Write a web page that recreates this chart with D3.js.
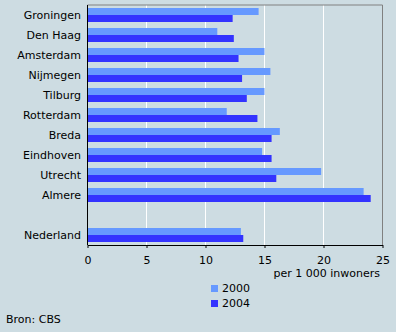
<!DOCTYPE html>
<html>
<head>
<meta charset="utf-8">
<script src="https://cdn.jsdelivr.net/npm/d3@7"></script>
<style>
  body { margin: 0; background: #cddce2; }
  svg { display: block; font-family: "DejaVu Sans", Verdana, sans-serif; }
</style>
</head>
<body>
<svg id="chart" width="396" height="332"></svg>
<script>
// gemeenten, "" is the empty row before Nederland
const categories = ["Groningen", "Den Haag", "Amsterdam", "Nijmegen", "Tilburg", "Rotterdam",
  "Breda", "Eindhoven", "Utrecht", "Almere", "", "Nederland"];
const values2000 = [14.5, 11.0, 15.0, 15.5, 15.0, 11.8, 16.3, 14.8, 19.8, 23.4, null, 13.0];
const values2004 = [12.3, 12.4, 12.8, 13.1, 13.5, 14.4, 15.6, 15.6, 16.0, 24.0, null, 13.2];
const xTicks = [0, 5, 10, 15, 20, 25];
const seriesNames = ["2000", "2004"];
const colors = ["#6699ff", "#3333ff"];

const svg = d3.select("#chart");
const plot = {left: 87.5, right: 382.5, top: 5, bottom: 245};

const x = d3.scaleLinear().domain([0, 25]).range([plot.left, plot.right]);
const y = d3.scaleBand().domain(categories.map((d, i) => i)).range([plot.top, plot.bottom]);
const barH = 7;

// gridlines
svg.append("g").selectAll("line")
  .data(xTicks.slice(1, -1))
  .enter().append("line")
    .attr("x1", d => x(d)).attr("x2", d => x(d))
    .attr("y1", plot.top).attr("y2", plot.bottom)
    .attr("stroke", "#fff").attr("stroke-width", 1);

// frame top / right
svg.append("path")
  .attr("d", `M${plot.left},${plot.top}H${plot.right}V${plot.bottom}`)
  .attr("fill", "none").attr("stroke", "#808080");

// bars
[values2000, values2004].forEach((vals, s) => {
  svg.append("g").selectAll("rect")
    .data(vals.map((v, i) => ({v, i})).filter(d => d.v != null))
    .enter().append("rect")
      .attr("x", x(0))
      .attr("y", d => y(d.i) + 3 + s * barH)
      .attr("width", d => x(d.v) - x(0))
      .attr("height", barH)
      .attr("fill", colors[s]);
});

// category labels
svg.append("g").selectAll("text")
  .data(categories)
  .enter().append("text")
    .attr("x", 81)
    .attr("y", (d, i) => y(i) + y.bandwidth() / 2)
    .attr("dy", "0.35em")
    .attr("text-anchor", "end")
    .attr("font-size", 11)
    .attr("fill", "#000")
    .text(d => d);

// left axis line
svg.append("line")
  .attr("x1", plot.left).attr("x2", plot.left).attr("y1", plot.top).attr("y2", plot.bottom)
  .attr("stroke", "#000");

// bottom axis
const xAxis = svg.append("g")
  .attr("transform", `translate(0,${plot.bottom})`)
  .call(d3.axisBottom(x).tickValues(xTicks).tickSize(3).tickSizeOuter(0).tickPadding(8));
xAxis.select(".domain").attr("stroke", "#000");
xAxis.selectAll("text").attr("font-size", 11).attr("fill", "#000")
  .attr("font-family", "DejaVu Sans, Verdana, sans-serif");

svg.append("text")
  .attr("x", 380).attr("y", 273).attr("dy", "0.35em")
  .attr("text-anchor", "end").attr("font-size", 11)
  .text("per 1 000 inwoners");

// legend
const legend = svg.append("g").selectAll("g")
  .data(seriesNames)
  .enter().append("g")
    .attr("transform", (d, i) => `translate(211,${285 + i * 15})`);
legend.append("rect").attr("width", 7).attr("height", 7).attr("fill", (d, i) => colors[i]);
legend.append("text").attr("x", 11).attr("y", 3.5).attr("dy", "0.35em")
  .attr("font-size", 11).text(d => d);

svg.append("text")
  .attr("x", 6).attr("y", 319).attr("dy", "0.35em")
  .attr("font-size", 11).text("Bron: CBS");
</script>
</body>
</html>
